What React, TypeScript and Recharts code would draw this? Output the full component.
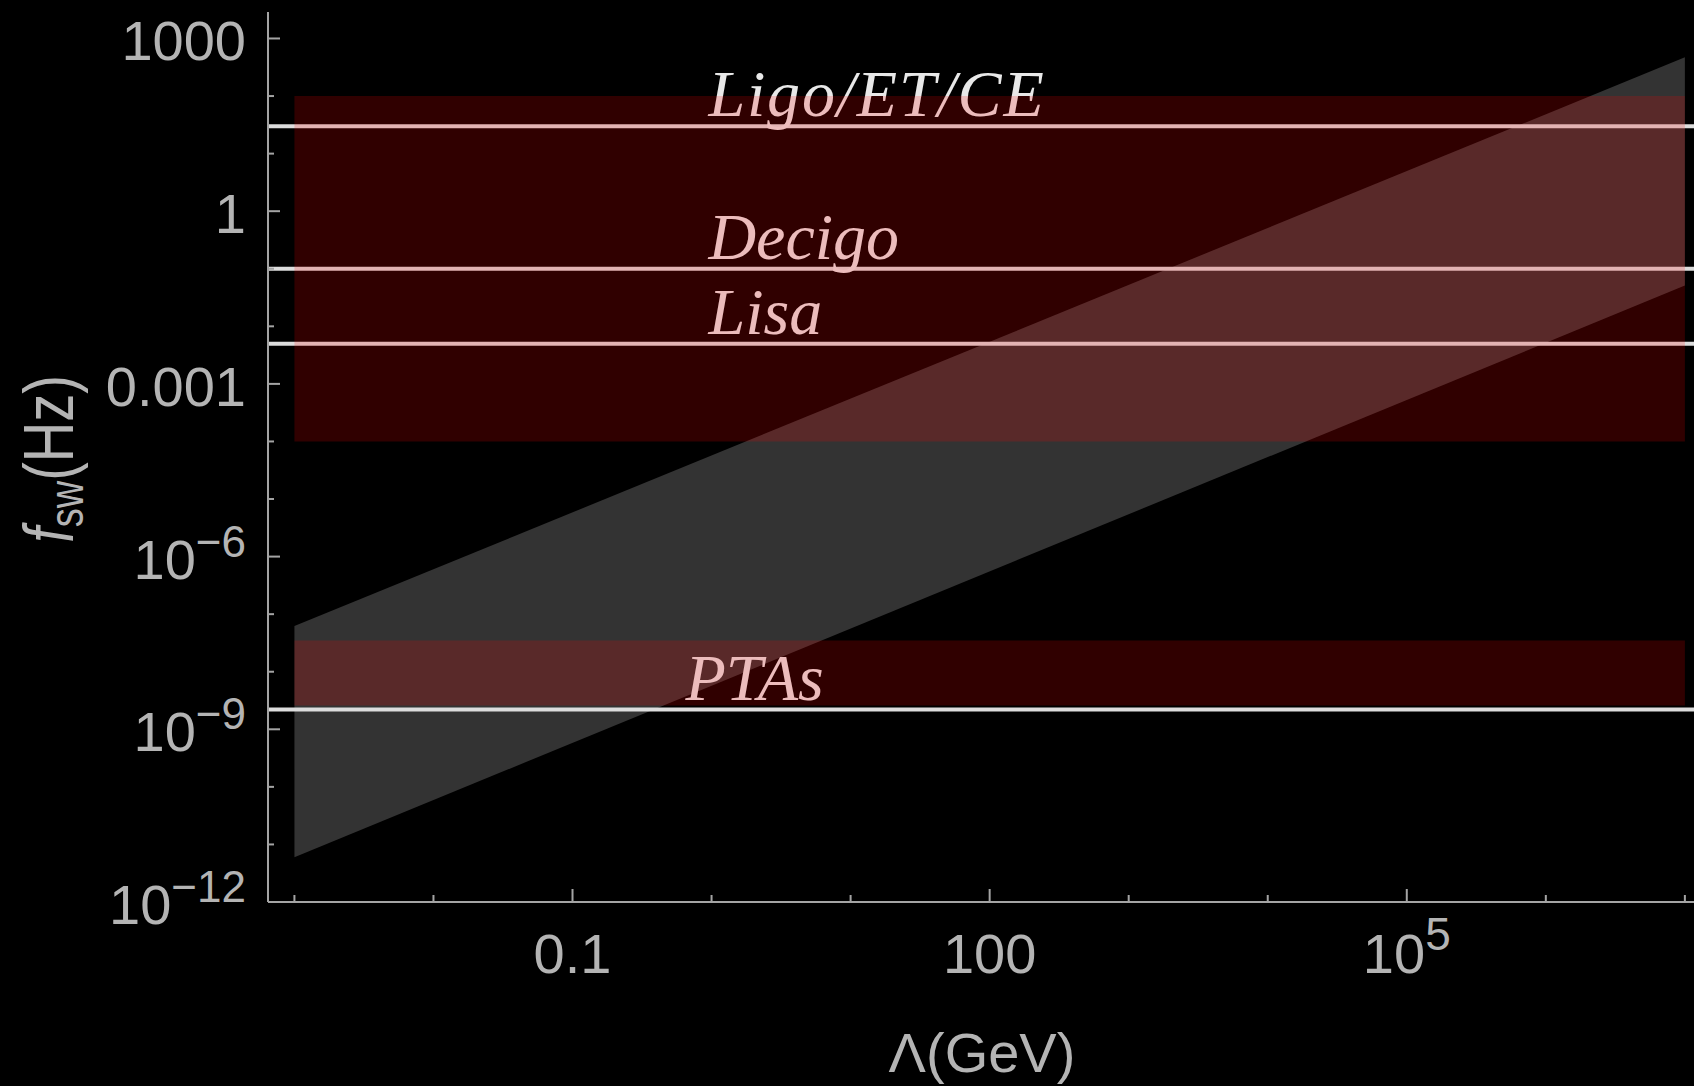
import { ComposedChart, Area, XAxis, YAxis, ReferenceLine, Scatter } from "recharts";

// Λ (GeV) where the shaded regions start and stop
const lambdaEnds = [1e-3, 1e7];
// f_sw band: lower and upper edge at the two Λ ends
const fswLow = [6e-12, 5.1e-2];
const fswHigh = [6.2e-8, 4.7e2];
// detector windows (Hz)
const spaceGroundBand = [1e-4, 1e2];
const ptaBand = [2.6e-9, 3.5e-8];
// detector lines + labels
const detectorNames = ["Ligo/ET/CE", "Decigo", "Lisa", "PTAs"];
const detectorFreqs = [30, 0.1, 0.005, 2.2e-9];
const detectorLabelLambda = [0.95, 0.95, 0.95, 0.65];

// ticks
const xDecades = [1e-3, 1e-2, 1e-1, 1, 10, 100, 1e3, 1e4, 1e5, 1e6, 1e7];
const xMajor = [0.1, 100, 1e5];
const xMajorText = [["0.1", ""], ["100", ""], ["10", "5"]];
const yDecades = [1e-12, 1e-11, 1e-10, 1e-9, 1e-8, 1e-7, 1e-6, 1e-5, 1e-4, 1e-3, 1e-2, 1e-1, 1, 10, 100, 1000];
const yMajor = [1e-12, 1e-9, 1e-6, 1e-3, 1, 1000];
const yMajorText = [["10", "\u221212"], ["10", "\u22129"], ["10", "\u22126"], ["0.001", ""], ["1", ""], ["1000", ""]];

const xDomain = [Math.pow(10, -3.19), Math.pow(10, 7.08)];
const yDomain = [1e-12, Math.pow(10, 3.46)];

const frameColor = "#a4a4a4";
const tickTextColor = "#b4b4b4";
const sans = "'Liberation Sans', Arial, sans-serif";
const serif = "'Liberation Serif', 'Times New Roman', serif";

const bandData = lambdaEnds.map((lambda, i) => ({
    lambda,
    sw: [fswLow[i], fswHigh[i]],
    upper: spaceGroundBand,
    pta: ptaBand,
}));

const labelData = detectorNames.map((name, i) => ({
    name,
    lambda: detectorLabelLambda[i],
    f: detectorFreqs[i],
}));

const XTick = (props: any) => {
    const { x, y, payload, side } = props;
    const k = xMajor.indexOf(payload.value);
    const len = k >= 0 ? 13 : 7;
    const dir = side === "top" ? 1 : -1;
    return (
        <g>
            <line x1={x} x2={x} y1={y} y2={y + dir * len} stroke={frameColor} strokeWidth={2} />
            {side !== "top" && k >= 0 && (
                <text x={x} y={y + 71} textAnchor="middle" fill={tickTextColor} fontSize={56} fontFamily={sans}>
                    {xMajorText[k][0]}
                    {xMajorText[k][1] && (
                        <tspan dy={-23} fontSize={46}>
                            {xMajorText[k][1]}
                        </tspan>
                    )}
                </text>
            )}
        </g>
    );
};

const YTick = (props: any) => {
    const { x, y, payload } = props;
    const k = yMajor.indexOf(payload.value);
    const len = k >= 0 ? 12 : 6;
    return (
        <g>
            <line x1={x} x2={x + len} y1={y} y2={y} stroke={frameColor} strokeWidth={2} />
            {k >= 0 && (
                <text x={x - 22} y={y + 22} textAnchor="end" fill={tickTextColor} fontSize={56} fontFamily={sans}>
                    {yMajorText[k][0]}
                    {yMajorText[k][1] && (
                        <tspan dy={-22} fontSize={44}>
                            {yMajorText[k][1]}
                        </tspan>
                    )}
                </text>
            )}
        </g>
    );
};

const YTitle = (props: any) => {
    const vb = props.viewBox || { x: 0, y: 12, width: 268, height: 890 };
    const cx = vb.x + 50;
    const cy = vb.y + vb.height / 2 + 2;
    return (
        <text
            transform={`translate(${cx},${cy}) rotate(-90) scale(1,1.25)`}
            textAnchor="middle"
            dy={18}
            fill={tickTextColor}
            fontSize={56}
            fontFamily={sans}
        >
            <tspan fontStyle="italic">f</tspan>
            <tspan fontSize={38} dy={8}>sw</tspan>
            <tspan dy={-8}>(Hz)</tspan>
        </text>
    );
};

const DetectorLabel = (props: any) => {
    const { cx, cy, payload } = props;
    // the slashes in the first label are set a bit looser
    const spacing = payload.name.includes("/") ? 1.8 : 0;
    return (
        <text x={cx} y={cy - 10} fill="#e8e8e8" fontSize={66} fontStyle="italic" fontFamily={serif} letterSpacing={spacing}>
            {payload.name}
        </text>
    );
};

export default function App() {
    return (
        <div style={{ position: "absolute", left: 0, top: 0, width: 1694, height: 1086, overflow: "hidden", background: "#000" }}>
            <ComposedChart width={1700} height={1086} data={bandData} margin={{ top: 12, right: 4, bottom: 0, left: 0 }}>
                <XAxis
                    dataKey="lambda"
                    type="number"
                    scale="log"
                    domain={xDomain}
                    allowDataOverflow
                    ticks={xDecades}
                    interval={0}
                    height={184}
                    tickSize={0}
                    tickMargin={0}
                    tickLine={false}
                    tick={(p: any) => <XTick {...p} side="bottom" />}
                    axisLine={{ stroke: frameColor, strokeWidth: 2 }}
                    label={{ value: "\u039b(GeV)", position: "insideBottom", offset: 14, fill: tickTextColor, fontSize: 56, fontFamily: sans }}
                    zIndex={500}
                />
                <XAxis
                    xAxisId="top"
                    orientation="top"
                    type="number"
                    scale="log"
                    domain={xDomain}
                    allowDataOverflow
                    ticks={xDecades}
                    interval={0}
                    height={0}
                    tickSize={0}
                    tickMargin={0}
                    tickLine={false}
                    tick={(p: any) => <XTick {...p} side="top" />}
                    axisLine={{ stroke: frameColor, strokeWidth: 2 }}
                    zIndex={500}
                />
                <YAxis
                    type="number"
                    scale="log"
                    domain={yDomain}
                    allowDataOverflow
                    ticks={yDecades}
                    interval={0}
                    width={268}
                    tickSize={0}
                    tickMargin={0}
                    tickLine={false}
                    tick={(p: any) => <YTick {...p} />}
                    axisLine={{ stroke: frameColor, strokeWidth: 2 }}
                    label={<YTitle />}
                    zIndex={500}
                />
                <Area dataKey="sw" type="linear" stroke="none" fill="#333333" fillOpacity={1} dot={false} activeDot={false} isAnimationActive={false} zIndex={100} />
                {detectorFreqs.map((f) => (
                    <ReferenceLine key={f} y={f} stroke="#dddddd" strokeWidth={4} zIndex={150} />
                ))}
                <Scatter data={labelData} dataKey="f" shape={(p: any) => <DetectorLabel {...p} />} isAnimationActive={false} zIndex={160} />
                <Area dataKey="upper" type="linear" stroke="none" fill="#ff0000" fillOpacity={0.19} dot={false} activeDot={false} isAnimationActive={false} zIndex={200} />
                <Area dataKey="pta" type="linear" stroke="none" fill="#ff0000" fillOpacity={0.19} dot={false} activeDot={false} isAnimationActive={false} zIndex={200} />
            </ComposedChart>
        </div>
    );
}
